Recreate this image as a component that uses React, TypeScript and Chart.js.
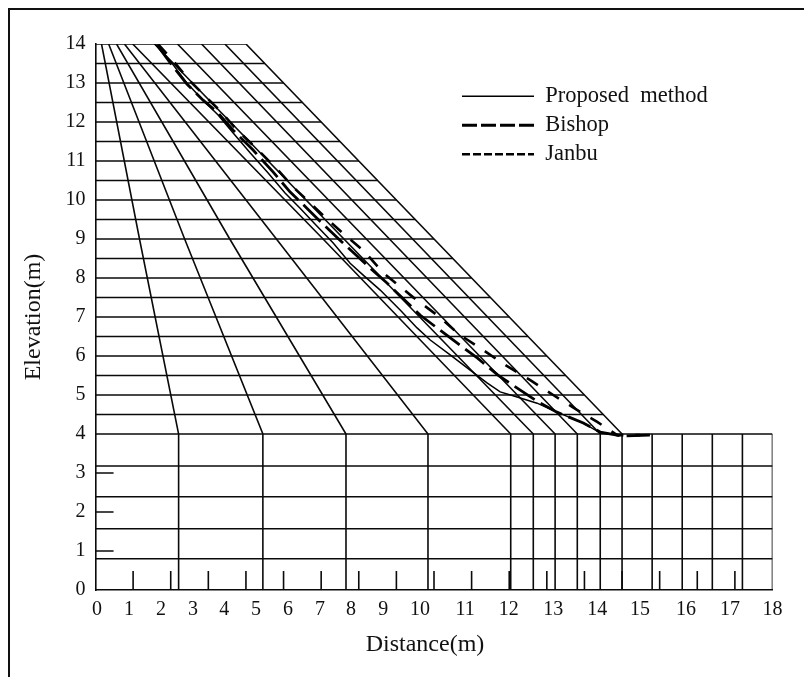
import React, { useEffect, useRef } from "react";
import { Chart, registerables } from "chart.js";

Chart.register(...registerables);

const SERIF = '"Liberation Serif", "Times New Roman", serif';

// Slip surfaces: x = distance (m), y = elevation (m)
const proposedX = [1.58, 2.03, 2.43, 2.86, 3.26, 3.66, 4.11, 4.59, 5.04, 5.44, 5.86, 6.32, 6.77, 7.11, 7.57, 8.1, 8.55, 8.9, 9.43, 9.96, 10.41, 10.76, 11.21, 11.74, 12.27, 12.97, 13.42, 14.0];
const proposedY = [14.0, 13.51, 13.0, 12.56, 12.18, 11.72, 11.21, 10.69, 10.18, 9.79, 9.36, 8.9, 8.38, 8.08, 7.69, 7.18, 6.72, 6.41, 6.03, 5.64, 5.31, 5.08, 4.95, 4.79, 4.56, 4.28, 4.03, 3.97];
const bishopX = [1.64, 2.03, 2.43, 2.86, 3.26, 3.66, 4.19, 4.72, 5.17, 5.62, 6.05, 6.5, 7.35, 7.75, 8.28, 8.63, 9.08, 9.69, 10.15, 10.7, 11.08, 11.77, 12.27, 12.97, 13.42, 14.0, 14.74];
const bishopY = [13.97, 13.46, 12.97, 12.56, 12.23, 11.79, 11.28, 10.72, 10.21, 9.79, 9.38, 8.97, 8.21, 7.87, 7.38, 7.05, 6.72, 6.28, 5.95, 5.51, 5.26, 4.82, 4.56, 4.28, 4.05, 3.95, 3.97];
const janbuX = [1.66, 2.09, 2.51, 2.94, 3.34, 3.74, 4.27, 4.83, 5.28, 5.76, 6.18, 6.66, 7.14, 7.65, 8.44, 9.08, 9.69, 10.31, 10.89, 11.56, 12.17, 12.8, 13.34, 13.87, 14.48];
const janbuY = [14, 13.54, 13.05, 12.64, 12.26, 11.82, 11.33, 10.79, 10.31, 9.87, 9.49, 9.08, 8.69, 8.13, 7.51, 7.05, 6.54, 6.15, 5.77, 5.38, 5.0, 4.62, 4.31, 3.97, 3.97];

// Mesh rows: elevation and the distance where each row ends
const rowY = [0.8, 1.57, 2.39, 3.18, 4, 4.5, 5, 5.5, 6, 6.5, 7, 7.5, 8, 8.5, 9, 9.5, 10, 10.5, 11, 11.5, 12, 12.5, 13, 13.5, 14];
const rowEnd = [18, 18, 18, 18, 18, 13.5, 13, 12.5, 12, 11.5, 11, 10.5, 10, 9.5, 9, 8.5, 8, 7.5, 7, 6.5, 6, 5.5, 5, 4.5, 4];

// Mesh columns: position on the crest level, at elevation 9 (where read), and on the base level
const fanTop = [0.16, 0.35, 0.56, 0.77, 0.99, 1.57, 2.18, 2.82, 3.44, 4.0];
const fanMid = [1.17, 2.37, 3.57, 4.81, 6.05, null, null, null, null, null];
const fanBase = [2.21, 4.45, 6.66, 8.84, 11.04, 11.64, 12.22, 12.81, 13.42, 14.0];
const footColumns = [14.8, 15.6, 16.4, 17.2, 18];
const crestElevation = 14;
const midElevation = 9;
const baseElevation = 4;

// Small scale marks printed along the axes
const xMarks = [1, 2, 3, 4, 5, 6, 7, 8, 9, 10, 11, 12, 13, 14, 15, 16, 17];
const yMarks = [1, 2, 3];
const markLengthX = 0.48;
const markLengthY = 0.49;

// Axis labels: the printed x labels sit off the marks, so their places are listed
const xTickLabels = ["0", "1", "2", "3", "4", "5", "6", "7", "8", "9", "10", "11", "12", "13", "14", "15", "16", "17", "18"];
const xTickPlaces = [0.04, 0.89, 1.74, 2.59, 3.42, 4.27, 5.12, 5.97, 6.79, 7.65, 8.63, 9.83, 10.99, 12.17, 13.34, 14.48, 15.7, 16.87, 18];

const legendNames = ["Proposed  method", "Bishop", "Janbu"];
const legendWidths = [1.3, 2.8, 2.4];
const legendDashes = [[], [15, 4], [8, 3]];

const zip = (xs: number[], ys: number[]) => xs.map((x, i) => ({ x, y: ys[i] }));

const meshLine = (data: { x: number; y: number }[]) => ({
  label: "mesh",
  data,
  showLine: true,
  pointRadius: 0,
  borderColor: "#0a0a0a",
  backgroundColor: "#0a0a0a",
  borderWidth: 1.6,
  tension: 0,
});

function buildDatasets() {
  const curve = (label: string, xs: number[], ys: number[], width: number, dash: number[]) => ({
    label,
    data: zip(xs, ys),
    showLine: true,
    pointRadius: 0,
    borderColor: "#000",
    backgroundColor: "#000",
    borderWidth: width,
    borderDash: dash,
    tension: 0,
  });
  const sets: any[] = [
    curve(legendNames[0], proposedX, proposedY, 1.5, []),
    curve(legendNames[1], bishopX, bishopY, 2.8, [24, 7]),
    curve(legendNames[2], janbuX, janbuY, 2.6, [13, 12]),
  ];
  rowY.forEach((y, i) => sets.push(meshLine([{ x: 0, y }, { x: rowEnd[i], y }])));
  fanTop.forEach((top, i) => {
    const pts = [{ x: top, y: crestElevation }];
    const mid = fanMid[i];
    if (mid !== null) pts.push({ x: mid, y: midElevation });
    pts.push({ x: fanBase[i], y: baseElevation });
    pts.push({ x: fanBase[i], y: 0 });
    sets.push(meshLine(pts));
  });
  footColumns.forEach((x) => sets.push(meshLine([{ x, y: baseElevation }, { x, y: 0 }])));
  xMarks.forEach((x) => sets.push(meshLine([{ x, y: 0 }, { x, y: markLengthY }])));
  yMarks.forEach((y) => sets.push(meshLine([{ x: 0, y }, { x: markLengthX, y }])));
  return sets;
}

const placeLegend = {
  id: "placeLegend",
  beforeDraw(chart: any) {
    chart.legend.left = 455.5;
    chart.legend.top = 78.5;
  },
};

export default function App() {
  const ref = useRef<HTMLCanvasElement>(null);
  useEffect(() => {
    const chart = new Chart(ref.current as HTMLCanvasElement, {
      type: "scatter",
      data: { datasets: buildDatasets() },
      plugins: [placeLegend],
      options: {
        animation: false,
        responsive: false,
        events: [],
        layout: { padding: { top: 44, right: 31.5, left: 0, bottom: 0 } },
        plugins: {
          tooltip: { enabled: false },
          legend: {
            position: "chartArea" as any,
            align: "start",
            labels: {
              usePointStyle: true,
              pointStyleWidth: 72,
              padding: 6.5,
              color: "#111",
              font: { family: SERIF, size: 22.5 },
              generateLabels: () =>
                legendNames.map((text, i) => ({
                  text,
                  datasetIndex: i,
                  fillStyle: "#000",
                  strokeStyle: "#000",
                  fontColor: "#111",
                  lineWidth: legendWidths[i],
                  lineDash: legendDashes[i],
                  pointStyle: "line",
                  hidden: false,
                })),
            },
          },
        },
        scales: {
          x: {
            type: "linear",
            min: 0,
            max: 18,
            grid: { display: false, drawTicks: false },
            border: { display: true, color: "#0a0a0a", width: 1.6 },
            afterBuildTicks: (axis: any) => {
              axis.ticks = xTickPlaces.map((value) => ({ value }));
            },
            afterFit: (axis: any) => {
              axis.height = 87;
            },
            ticks: {
              autoSkip: false,
              maxRotation: 0,
              padding: 8,
              color: "#111",
              font: { family: SERIF, size: 20 },
              callback: (_v: any, i: number) => xTickLabels[i],
            },
            title: {
              display: true,
              text: "Distance(m)   ",
              color: "#111",
              font: { family: SERIF, size: 24 },
              padding: { top: 0, bottom: 17.5 },
            },
          },
          y: {
            type: "linear",
            min: 0,
            max: 14,
            grid: { display: false, drawTicks: false },
            border: { display: true, color: "#0a0a0a", width: 1.6 },
            afterFit: (axis: any) => {
              axis.width = 95.5;
            },
            ticks: {
              stepSize: 1,
              padding: 10,
              color: "#111",
              font: { family: SERIF, size: 20 },
            },
            title: {
              display: true,
              text: "Elevation(m)",
              color: "#111",
              font: { family: SERIF, size: 24 },
              padding: { top: 19.5, bottom: 0 },
            },
          },
        },
      } as any,
    });
    return () => chart.destroy();
  }, []);
  return (
    <div style={{ position: "absolute", left: 0, top: 0, width: 804, height: 677, overflow: "hidden", background: "#fff" }}>
      <div style={{ position: "absolute", left: 8, top: 8, right: -4, bottom: -4, borderLeft: "2px solid #111", borderTop: "2px solid #111" }} />
      <canvas ref={ref} width={804} height={677} style={{ position: "absolute", left: 0, top: 0 }} />
    </div>
  );
}
